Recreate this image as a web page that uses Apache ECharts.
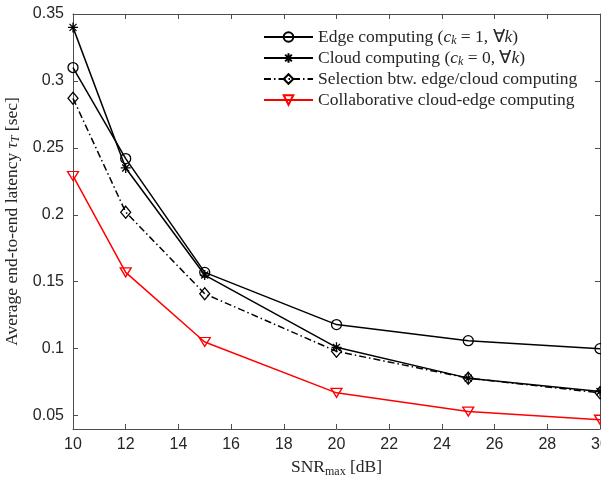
<!DOCTYPE html>
<html>
<head>
<meta charset="utf-8">
<script src="https://cdn.jsdelivr.net/npm/echarts@6/dist/echarts.min.js"></script>
<style>
  html, body { margin: 0; padding: 0; background: #fff; }
  #chart { width: 601px; height: 481px; }
</style>
</head>
<body>
<div id="chart"></div>
<script>
  // SNR points (dB) and average latency per scheme (sec)
  var snr = [10, 12, 15, 20, 25, 30];
  var edgeLatency = [0.310, 0.242, 0.157, 0.118, 0.106, 0.100];
  var cloudLatency = [0.340, 0.235, 0.155, 0.101, 0.078, 0.068];
  var selectionLatency = [0.287, 0.202, 0.141, 0.098, 0.078, 0.067];
  var collabLatency = [0.229, 0.157, 0.105, 0.067, 0.053, 0.047];
  var yTicks = [0.05, 0.1, 0.15, 0.2, 0.25, 0.3, 0.35];

  var serif = 'Liberation Serif';
  var sans = 'Liberation Sans';
  var axisColor = '#4d4d4d';
  var textColor = '#262626';

  // rich text pieces for the LaTeX-like labels (subscripts sit at the line bottom)
  var richText = {
    r: { fontFamily: serif, fontSize: 17.5, color: textColor, lineHeight: 20, verticalAlign: 'middle' },
    i: { fontFamily: serif, fontSize: 17.5, fontStyle: 'italic', color: textColor, lineHeight: 20, verticalAlign: 'middle' },
    s: { fontFamily: serif, fontSize: 12, color: textColor, lineHeight: 12, verticalAlign: 'bottom' },
    si: { fontFamily: serif, fontSize: 12, fontStyle: 'italic', color: textColor, lineHeight: 12, verticalAlign: 'bottom' }
  };

  var legendNames = {
    'Edge computing': '{r|Edge computing (}{i|c}{si|k}{r| = 1, \u2200}{i|k}{r|)}',
    'Cloud computing': '{r|Cloud computing (}{i|c}{si|k}{r| = 0, \u2200}{i|k}{r|)}',
    'Selection': '{r|Selection btw. edge/cloud computing}',
    'Collaborative': '{r|Collaborative cloud-edge computing}'
  };

  function toPairs(ys) {
    return snr.map(function (x, k) { return [x, ys[k]]; });
  }

  var starPath = 'path://M5,0L5,10M0,5L10,5M1.5,1.5L8.5,8.5M1.5,8.5L8.5,1.5';

  var chart = echarts.init(document.getElementById('chart'));
  chart.setOption({
    animation: false,
    backgroundColor: '#fff',
    grid: { left: 73, right: 1, top: 14, bottom: 52, outerBoundsMode: 'none' },
    legend: {
      orient: 'vertical',
      left: 258,
      top: 22,
      padding: 5,
      itemWidth: 49,
      itemHeight: 12,
      itemGap: 1,
      formatter: function (name) { return legendNames[name]; },
      textStyle: { fontFamily: serif, fontSize: 17.5, color: textColor, lineHeight: 20, rich: richText },
      data: ['Edge computing', 'Cloud computing', 'Selection', 'Collaborative']
    },
    xAxis: [{
      type: 'value',
      min: 10, max: 30, interval: 2,
      name: '{r|SNR}{s|max}{r| [dB]}',
      nameLocation: 'middle',
      nameGap: 28,
      nameTextStyle: { lineHeight: 20, rich: richText },
      axisLine: { lineStyle: { color: axisColor } },
      axisTick: { inside: true, length: 5, lineStyle: { color: axisColor } },
      axisLabel: { margin: 8, fontFamily: sans, fontSize: 16, color: textColor },
      splitLine: { show: false }
    }, {
      type: 'value',
      position: 'top',
      min: 10, max: 30, interval: 2,
      axisLine: { show: true, lineStyle: { color: axisColor } },
      axisTick: { show: true, inside: true, length: 5, lineStyle: { color: axisColor } },
      axisLabel: { show: false },
      splitLine: { show: false }
    }],
    yAxis: [{
      type: 'value',
      min: 0.04, max: 0.35,
      name: '{r|Average end-to-end latency }{i|\u03c4}{si|T}{r| [sec]}',
      nameLocation: 'middle',
      nameGap: 47,
      nameTextStyle: { lineHeight: 20, rich: richText },
      axisLine: { show: true, lineStyle: { color: axisColor } },
      axisTick: { show: true, inside: true, length: 5, customValues: yTicks, lineStyle: { color: axisColor } },
      axisLabel: { margin: 9, fontFamily: sans, fontSize: 16, color: textColor, customValues: yTicks },
      splitLine: { show: false }
    }, {
      type: 'value',
      position: 'right',
      min: 0.04, max: 0.35,
      axisLine: { show: true, lineStyle: { color: axisColor } },
      axisTick: { show: true, inside: true, length: 5, customValues: yTicks, lineStyle: { color: axisColor } },
      axisLabel: { show: false },
      splitLine: { show: false }
    }],
    series: [{
      name: 'Edge computing',
      type: 'line',
      data: toPairs(edgeLatency),
      symbol: 'circle',
      symbolSize: 10,
      lineStyle: { color: '#000', width: 1.5 },
      itemStyle: { color: 'rgba(0,0,0,0)', borderColor: '#000', borderWidth: 1.3 }
    }, {
      name: 'Cloud computing',
      type: 'line',
      data: toPairs(cloudLatency),
      symbol: starPath,
      symbolSize: 10,
      lineStyle: { color: '#000', width: 1.5 },
      itemStyle: { color: '#000', borderColor: '#000', borderWidth: 1.3 }
    }, {
      name: 'Selection',
      type: 'line',
      data: toPairs(selectionLatency),
      symbol: 'diamond',
      symbolSize: [10, 12],
      lineStyle: { color: '#000', width: 1.5, type: [7, 3, 1.5, 3] },
      itemStyle: { color: 'rgba(0,0,0,0)', borderColor: '#000', borderWidth: 1.3 }
    }, {
      name: 'Collaborative',
      type: 'line',
      data: toPairs(collabLatency),
      symbol: 'triangle',
      symbolRotate: 180,
      symbolSize: [11, 9],
      lineStyle: { color: '#ff0000', width: 1.5 },
      itemStyle: { color: 'rgba(0,0,0,0)', borderColor: '#ff0000', borderWidth: 1.3 }
    }]
  });
</script>
</body>
</html>
